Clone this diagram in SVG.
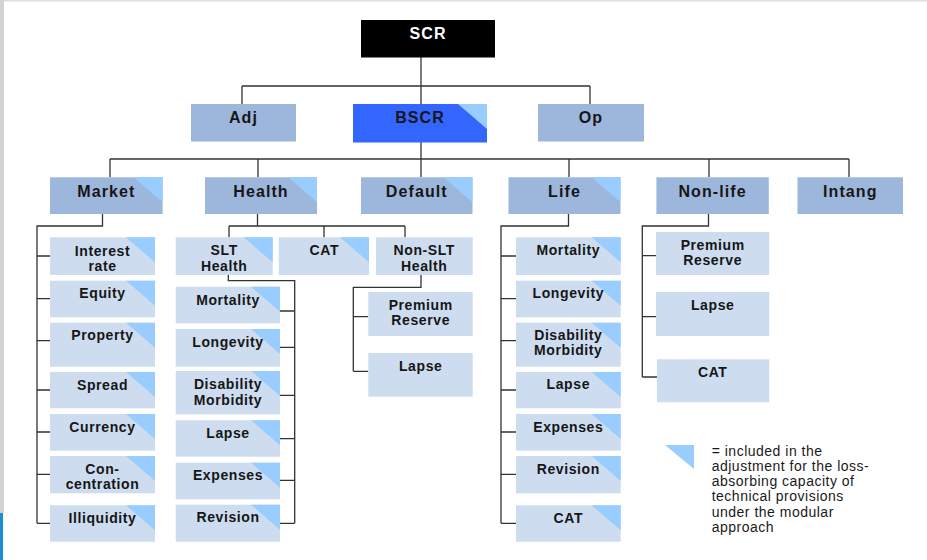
<svg xmlns="http://www.w3.org/2000/svg" xmlns:xlink="http://www.w3.org/1999/xlink" width="927" height="560" viewBox="0 0 927 560">
  <style>
    .hd { fill: #9db6dc; }
    .sub { fill: #cddcef; }
    .bscr { fill: #3366ff; }
    .top { fill: #000000; }
    .tri { fill: #99ccff; }
    text { font-family: "Liberation Sans", Arial, sans-serif; font-weight: bold; fill: #161616; text-anchor: middle; }
    .t1 { font-size: 16px; letter-spacing: 1.1px; }
    .t2 { font-size: 14px; letter-spacing: 0.6px; }
    .white { fill: #ffffff; }
    .legend { font-weight: normal; font-size: 14px; letter-spacing: 0.5px; text-anchor: start; fill: #1a1a1a; }
    .wire { fill: none; stroke: #333333; stroke-width: 1.3; }
  </style>
  <defs>
    <!-- corner flag, anchored at the top-right corner of a box -->
    <path id="flag" class="tri" d="M-29,0 H0 V25 Z"/>
  </defs>

  <rect x="0" y="0" width="927" height="560" fill="#ffffff"/>
  <!-- page edges -->
  <rect x="0" y="0" width="927" height="1.5" fill="#dcdfe2"/>
  <rect x="0" y="0" width="4" height="513" fill="#cfd3d6"/>
  <rect x="0" y="513" width="3" height="47" fill="#1b8fd2"/>

  <g id="connectors" class="wire">
    <!-- top levels -->
    <path d="M421,57 V104"/>
    <path d="M242,86 H590 M242,86 V104 M590,86 V104"/>
    <path d="M421,142 V177"/>
    <path d="M110,159 H849 M110,159 V177 M258,159 V177 M569,159 V177 M709,159 V177 M849,159 V177"/>
    <!-- market -->
    <path d="M102.5,214 V226 H37 V523.3"/>
    <path d="M37,256 H50 M37,298.7 H50 M37,340.7 H50 M37,390 H50 M37,432 H50 M37,474.3 H50 M37,523.3 H50"/>
    <!-- health -->
    <path d="M257.5,214 V226 M229,226 H405 M229,226 V237.3 M324,226 V237.3 M405,226 V237.3"/>
    <path d="M228.3,275 V280.7 H294.7 V523.3"/>
    <path d="M280,311 H294.7 M280,347.3 H294.7 M280,395.3 H294.7 M280,438.7 H294.7 M280,480.3 H294.7 M280,523.3 H294.7"/>
    <path d="M421,275 V287.3 H353.3 V371.3"/>
    <path d="M353.3,316.7 H368.3 M353.3,371.3 H368.3"/>
    <!-- life -->
    <path d="M568.5,214 V226 H501 V523.3"/>
    <path d="M501,256 H516 M501,298.7 H516 M501,340.7 H516 M501,390 H516 M501,432 H516 M501,474.3 H516 M501,523.3 H516"/>
    <!-- non-life -->
    <path d="M708.5,214 V226 H642.3 V377"/>
    <path d="M642.3,255.7 H656 M642.3,316.7 H656 M642.3,377 H657"/>
  </g>

  <!-- level 1 -->
  <g id="scr"><rect class="top" x="361" y="20" width="134" height="37.5"/><text class="t1 white" x="428" y="38.5">SCR</text></g>
  <g id="adj"><rect class="hd" x="191" y="104" width="105" height="37.5"/><text class="t1" x="243.5" y="122.7">Adj</text></g>
  <g id="bscr"><rect class="bscr" x="353" y="104" width="134" height="38.5"/><use xlink:href="#flag" x="487" y="104"/><text class="t1" x="420" y="122.7">BSCR</text></g>
  <g id="op"><rect class="hd" x="538" y="104" width="106" height="37.5"/><text class="t1" x="591" y="122.7">Op</text></g>

  <!-- level 2 -->
  <g id="market"><rect class="hd" x="50" y="177.3" width="112.6" height="36.7"/><use xlink:href="#flag" x="162.6" y="177.3"/><text class="t1" x="106.3" y="196.7">Market</text></g>
  <g id="health"><rect class="hd" x="205" y="177.3" width="112" height="36.7"/><use xlink:href="#flag" x="317" y="177.3"/><text class="t1" x="261" y="196.7">Health</text></g>
  <g id="default"><rect class="hd" x="361" y="177.3" width="111.5" height="36.7"/><use xlink:href="#flag" x="472.5" y="177.3"/><text class="t1" x="416.8" y="196.7">Default</text></g>
  <g id="life"><rect class="hd" x="508.5" y="177.3" width="112" height="36.7"/><use xlink:href="#flag" x="620.5" y="177.3"/><text class="t1" x="564.5" y="196.7">Life</text></g>
  <g id="nonlife"><rect class="hd" x="656.4" y="177.3" width="112.4" height="36.7"/><text class="t1" x="712.6" y="196.7">Non-life</text></g>
  <g id="intang"><rect class="hd" x="797.5" y="177.3" width="105.5" height="36.7"/><text class="t1" x="850.3" y="196.7">Intang</text></g>

  <!-- market sub-modules -->
  <g id="mkt-interest"><rect class="sub" x="50" y="237.3" width="105" height="37.7"/><use xlink:href="#flag" x="155" y="237.3"/><text class="t2" x="102.5" y="255.7">Interest</text><text class="t2" x="102.5" y="271">rate</text></g>
  <g id="mkt-equity"><rect class="sub" x="50" y="280.7" width="105" height="36.6"/><use xlink:href="#flag" x="155" y="280.7"/><text class="t2" x="102.5" y="298">Equity</text></g>
  <g id="mkt-property"><rect class="sub" x="50" y="322.7" width="105" height="44"/><use xlink:href="#flag" x="155" y="322.7"/><text class="t2" x="102.5" y="340.3">Property</text></g>
  <g id="mkt-spread"><rect class="sub" x="50" y="372" width="105" height="36.3"/><use xlink:href="#flag" x="155" y="372"/><text class="t2" x="102.5" y="389.7">Spread</text></g>
  <g id="mkt-currency"><rect class="sub" x="50" y="414" width="105" height="36.7"/><use xlink:href="#flag" x="155" y="414"/><text class="t2" x="102.5" y="431.7">Currency</text></g>
  <g id="mkt-concentration"><rect class="sub" x="50" y="456" width="105" height="37.3"/><use xlink:href="#flag" x="155" y="456"/><text class="t2" x="102.5" y="473.7">Con-</text><text class="t2" x="102.5" y="489.2">centration</text></g>
  <g id="mkt-illiquidity"><rect class="sub" x="50" y="505.3" width="105" height="36.4"/><use xlink:href="#flag" x="155" y="505.3"/><text class="t2" x="102.5" y="522.7">Illiquidity</text></g>

  <!-- health sub-modules -->
  <g id="slt-health"><rect class="sub" x="175.7" y="237.3" width="97" height="37.7"/><use xlink:href="#flag" x="272.7" y="237.3"/><text class="t2" x="224.2" y="255">SLT</text><text class="t2" x="224.2" y="271">Health</text></g>
  <g id="health-cat"><rect class="sub" x="278.7" y="237.3" width="90.3" height="37.7"/><use xlink:href="#flag" x="369" y="237.3"/><text class="t2" x="324.3" y="255">CAT</text></g>
  <g id="nonslt-health"><rect class="sub" x="376" y="237.3" width="96.7" height="37.7"/><text class="t2" x="424.3" y="255">Non-SLT</text><text class="t2" x="424.3" y="271">Health</text></g>

  <g id="slt-mortality"><rect class="sub" x="175.7" y="286.7" width="104.3" height="36.6"/><use xlink:href="#flag" x="280" y="286.7"/><text class="t2" x="228" y="305">Mortality</text></g>
  <g id="slt-longevity"><rect class="sub" x="175.7" y="329" width="104.3" height="37.7"/><use xlink:href="#flag" x="280" y="329"/><text class="t2" x="228" y="346.7">Longevity</text></g>
  <g id="slt-disability"><rect class="sub" x="175.7" y="371" width="104.3" height="43.3"/><use xlink:href="#flag" x="280" y="371"/><text class="t2" x="228" y="389.3">Disability</text><text class="t2" x="228" y="404.7">Morbidity</text></g>
  <g id="slt-lapse"><rect class="sub" x="175.7" y="420.3" width="104.3" height="36.4"/><use xlink:href="#flag" x="280" y="420.3"/><text class="t2" x="228" y="437.7">Lapse</text></g>
  <g id="slt-expenses"><rect class="sub" x="175.7" y="462.7" width="104.3" height="36.6"/><use xlink:href="#flag" x="280" y="462.7"/><text class="t2" x="228" y="480">Expenses</text></g>
  <g id="slt-revision"><rect class="sub" x="175.7" y="504.7" width="104.3" height="37"/><use xlink:href="#flag" x="280" y="504.7"/><text class="t2" x="228" y="522">Revision</text></g>

  <g id="nslt-premium"><rect class="sub" x="368.3" y="292" width="104.4" height="44"/><text class="t2" x="420.7" y="310">Premium</text><text class="t2" x="420.7" y="325">Reserve</text></g>
  <g id="nslt-lapse"><rect class="sub" x="368.3" y="353" width="104.4" height="43.7"/><text class="t2" x="420.7" y="370.7">Lapse</text></g>

  <!-- life sub-modules -->
  <g id="life-mortality"><rect class="sub" x="516" y="237.3" width="104.7" height="37.7"/><use xlink:href="#flag" x="620.7" y="237.3"/><text class="t2" x="568.3" y="255">Mortality</text></g>
  <g id="life-longevity"><rect class="sub" x="516" y="280.7" width="104.7" height="36.6"/><use xlink:href="#flag" x="620.7" y="280.7"/><text class="t2" x="568.3" y="298.3">Longevity</text></g>
  <g id="life-disability"><rect class="sub" x="516" y="322.7" width="104.7" height="44"/><use xlink:href="#flag" x="620.7" y="322.7"/><text class="t2" x="568.3" y="340.3">Disability</text><text class="t2" x="568.3" y="355.3">Morbidity</text></g>
  <g id="life-lapse"><rect class="sub" x="516" y="372" width="104.7" height="36.3"/><use xlink:href="#flag" x="620.7" y="372"/><text class="t2" x="568.3" y="389.3">Lapse</text></g>
  <g id="life-expenses"><rect class="sub" x="516" y="414" width="104.7" height="36.7"/><use xlink:href="#flag" x="620.7" y="414"/><text class="t2" x="568.3" y="431.7">Expenses</text></g>
  <g id="life-revision"><rect class="sub" x="516" y="456" width="104.7" height="37.3"/><use xlink:href="#flag" x="620.7" y="456"/><text class="t2" x="568.3" y="473.7">Revision</text></g>
  <g id="life-cat"><rect class="sub" x="516" y="505.3" width="104.7" height="36.4"/><use xlink:href="#flag" x="620.7" y="505.3"/><text class="t2" x="568.3" y="522.7">CAT</text></g>

  <!-- non-life sub-modules -->
  <g id="nl-premium"><rect class="sub" x="656" y="232" width="113.3" height="43"/><text class="t2" x="712.7" y="250">Premium</text><text class="t2" x="712.7" y="265">Reserve</text></g>
  <g id="nl-lapse"><rect class="sub" x="656" y="292" width="113.3" height="44"/><text class="t2" x="712.7" y="310">Lapse</text></g>
  <g id="nl-cat"><rect class="sub" x="657" y="359.3" width="112.3" height="43"/><text class="t2" x="712.7" y="376.7">CAT</text></g>

  <!-- key -->
  <g id="legend">
    <path class="tri" d="M665,445 H694 V469 Z"/>
    <text class="legend" x="711.7" y="455.5">= included in the</text>
    <text class="legend" x="711.7" y="470.8">adjustment for the loss-</text>
    <text class="legend" x="711.7" y="486.1">absorbing capacity of</text>
    <text class="legend" x="711.7" y="501.4">technical provisions</text>
    <text class="legend" x="711.7" y="516.7">under the modular</text>
    <text class="legend" x="711.7" y="532">approach</text>
  </g>
</svg>
